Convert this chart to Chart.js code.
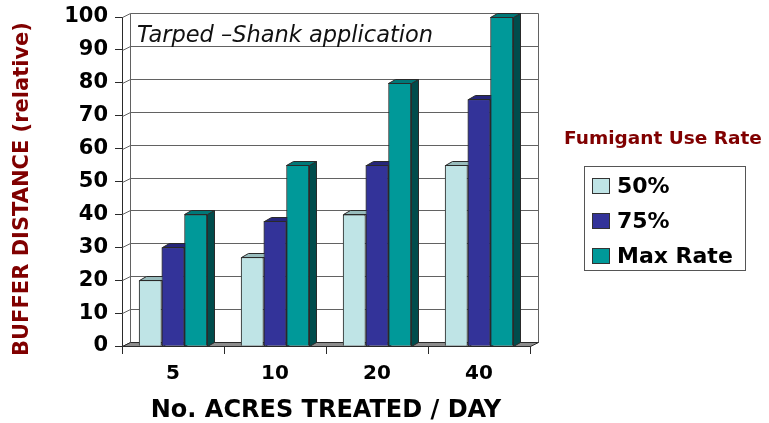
<!DOCTYPE html>
<html>
<head>
<meta charset="utf-8">
<script src="https://cdn.jsdelivr.net/npm/chart.js@4/dist/chart.umd.min.js"></script>
<style>
  html, body { margin: 0; padding: 0; background: #fff; }
  canvas { display: block; }
</style>
</head>
<body>
<canvas id="bufferChart" width="769" height="423"></canvas>
<script>
// Buffer distance by acres treated per day, three fumigant use rates.
const CATEGORIES = ['5', '10', '20', '40'];
const RATE_50 = [20, 27, 40, 55];
const RATE_75 = [30, 38, 55, 75];
const RATE_MAX = [40, 55, 80, 100];
const SERIES_LABELS = ['50%', '75%', 'Max Rate'];

const Y_TITLE = 'BUFFER DISTANCE (relative)';
const X_TITLE = 'No. ACRES TREATED / DAY';
const INNER_TITLE = 'Tarped \u2013Shank application';
const LEGEND_TITLE = 'Fumigant Use Rate';

const FONT = 'DejaVu Sans';
const DARK_RED = '#800000';
const FRONT = ['#bfe4e6', '#333399', '#009999'];
const TOPS = ['#98bcbd', '#26267a', '#007878'];
const SIDES = ['#6f9091', '#1a1a55', '#004c4c'];
const GRID = '#626262';
const EDGE = '#2a2a2a';

// Excel-style 3D look: back wall sits up-right of the front plane.
const WALL = { x: 8, y: -4 };
const BAR = { x: 7, y: -4 };

function px(v) { return Math.round(v) + 0.5; }

const wallsPlugin = {
    id: 'walls3d',
    beforeDatasetsDraw(chart) {
        const { ctx, chartArea: a, scales: { y } } = chart;
        ctx.save();
        ctx.lineWidth = 1;
        const yTop = px(y.getPixelForValue(y.max));
        const yBot = px(y.getPixelForValue(y.min));
        const L = px(a.left), R = px(a.right);

        // side-wall diagonals + back-wall gridlines
        ctx.strokeStyle = GRID;
        y.ticks.forEach(t => {
            const py = px(y.getPixelForValue(t.value));
            ctx.beginPath();
            ctx.moveTo(L, py);
            ctx.lineTo(L + WALL.x, py + WALL.y);
            ctx.lineTo(R + WALL.x, py + WALL.y);
            ctx.stroke();
        });
        // back wall edges
        ctx.beginPath();
        ctx.moveTo(L + WALL.x, yTop + WALL.y);
        ctx.lineTo(L + WALL.x, yBot + WALL.y);
        ctx.moveTo(R + WALL.x, yTop + WALL.y);
        ctx.lineTo(R + WALL.x, yBot + WALL.y);
        ctx.stroke();

        // floor
        ctx.beginPath();
        ctx.moveTo(L, yBot);
        ctx.lineTo(R, yBot);
        ctx.lineTo(R + WALL.x, yBot + WALL.y);
        ctx.lineTo(L + WALL.x, yBot + WALL.y);
        ctx.closePath();
        ctx.fillStyle = '#8c8c8c';
        ctx.fill();
        ctx.strokeStyle = EDGE;
        ctx.stroke();
        ctx.restore();
    },
    afterDatasetsDraw(chart) {
        // redraw left to right so each bar's front hides its neighbour's side
        const ctx = chart.ctx;
        ctx.save();
        ctx.lineWidth = 1;
        ctx.strokeStyle = EDGE;
        chart.data.datasets.forEach((ds, i) => {
            chart.getDatasetMeta(i).data.forEach(el => {
                el.draw(ctx, chart.chartArea);
                const l = px(el.x - el.width / 2), r = px(el.x + el.width / 2);
                const t = px(el.y), b = px(el.base);
                ctx.beginPath();
                ctx.moveTo(r, t);
                ctx.lineTo(r + BAR.x, t + BAR.y);
                ctx.lineTo(r + BAR.x, b + BAR.y);
                ctx.lineTo(r, b);
                ctx.closePath();
                ctx.fillStyle = SIDES[i];
                ctx.fill();
                ctx.stroke();
                ctx.beginPath();
                ctx.moveTo(l, t);
                ctx.lineTo(r, t);
                ctx.lineTo(r + BAR.x, t + BAR.y);
                ctx.lineTo(l + BAR.x, t + BAR.y);
                ctx.closePath();
                ctx.fillStyle = TOPS[i];
                ctx.fill();
                ctx.stroke();
            });
        });
        ctx.restore();
    },
    afterDraw(chart) {
        const ctx = chart.ctx;
        ctx.save();

        // inner caption on the back wall
        ctx.fillStyle = '#111';
        ctx.font = `italic 22.5px "${FONT}"`;
        ctx.textAlign = 'left';
        ctx.textBaseline = 'alphabetic';
        ctx.fillText(INNER_TITLE, 137, 42);

        // rotated y title
        ctx.save();
        ctx.translate(23, 189);
        ctx.rotate(-Math.PI / 2);
        ctx.fillStyle = DARK_RED;
        ctx.font = `bold 21px "${FONT}"`;
        ctx.textAlign = 'center';
        ctx.textBaseline = 'middle';
        ctx.fillText(Y_TITLE, 0, 0);
        ctx.restore();

        // legend
        ctx.fillStyle = DARK_RED;
        ctx.font = `bold 18.5px "${FONT}"`;
        ctx.textAlign = 'center';
        ctx.textBaseline = 'middle';
        ctx.fillText(LEGEND_TITLE, 663, 139);

        ctx.lineWidth = 1;
        ctx.strokeStyle = '#555';
        ctx.strokeRect(584.5, 166.5, 161, 104);
        const rows = [186, 221, 256];
        ctx.font = `bold 22px "${FONT}"`;
        ctx.textAlign = 'left';
        chart.data.datasets.forEach((ds, i) => {
            const cy = rows[i];
            ctx.fillStyle = ds.backgroundColor;
            ctx.fillRect(592, cy - 8, 18, 16);
            ctx.strokeStyle = '#333';
            ctx.strokeRect(592.5, cy - 7.5, 17, 15);
            ctx.fillStyle = '#000';
            ctx.fillText(ds.label, 617, cy + 1);
        });
        ctx.restore();
    }
};

new Chart(document.getElementById('bufferChart'), {
    type: 'bar',
    data: {
        labels: CATEGORIES,
        datasets: [RATE_50, RATE_75, RATE_MAX].map((vals, i) => ({
            label: SERIES_LABELS[i],
            data: vals,
            backgroundColor: FRONT[i],
            borderColor: EDGE,
            borderWidth: 1,
            categoryPercentage: 0.67,
            barPercentage: 1.0,
        })),
    },
    options: {
        responsive: false,
        animation: false,
        devicePixelRatio: 1,
        layout: { padding: { left: 0, right: 239, top: 17, bottom: 0 } },
        plugins: {
            legend: { display: false },
            tooltip: { enabled: false },
        },
        scales: {
            x: {
                grid: { drawOnChartArea: false, drawTicks: true, tickLength: 8, color: EDGE, offset: true },
                border: { display: true, color: EDGE },
                ticks: { color: '#000', padding: 8, font: { family: FONT, weight: 'bold', size: 20 } },
                title: {
                    display: true, text: X_TITLE, color: '#000',
                    padding: { top: 0, bottom: 0 },
                    font: { family: FONT, weight: 'bold', size: 24, lineHeight: 1.05 },
                },
                afterFit(s) { s.height = 77; s.paddingLeft = 0; s.paddingRight = 0; },
            },
            y: {
                min: 0,
                max: 100,
                grid: { drawOnChartArea: false, drawTicks: true, tickLength: 7, color: EDGE },
                border: { display: true, color: EDGE },
                ticks: { stepSize: 10, color: '#000', padding: 7, font: { family: FONT, weight: 'bold', size: 21 } },
                afterFit(s) { s.width = 122; s.paddingTop = 0; s.paddingBottom = 0; },
            },
        },
    },
    plugins: [wallsPlugin],
});
</script>
</body>
</html>
